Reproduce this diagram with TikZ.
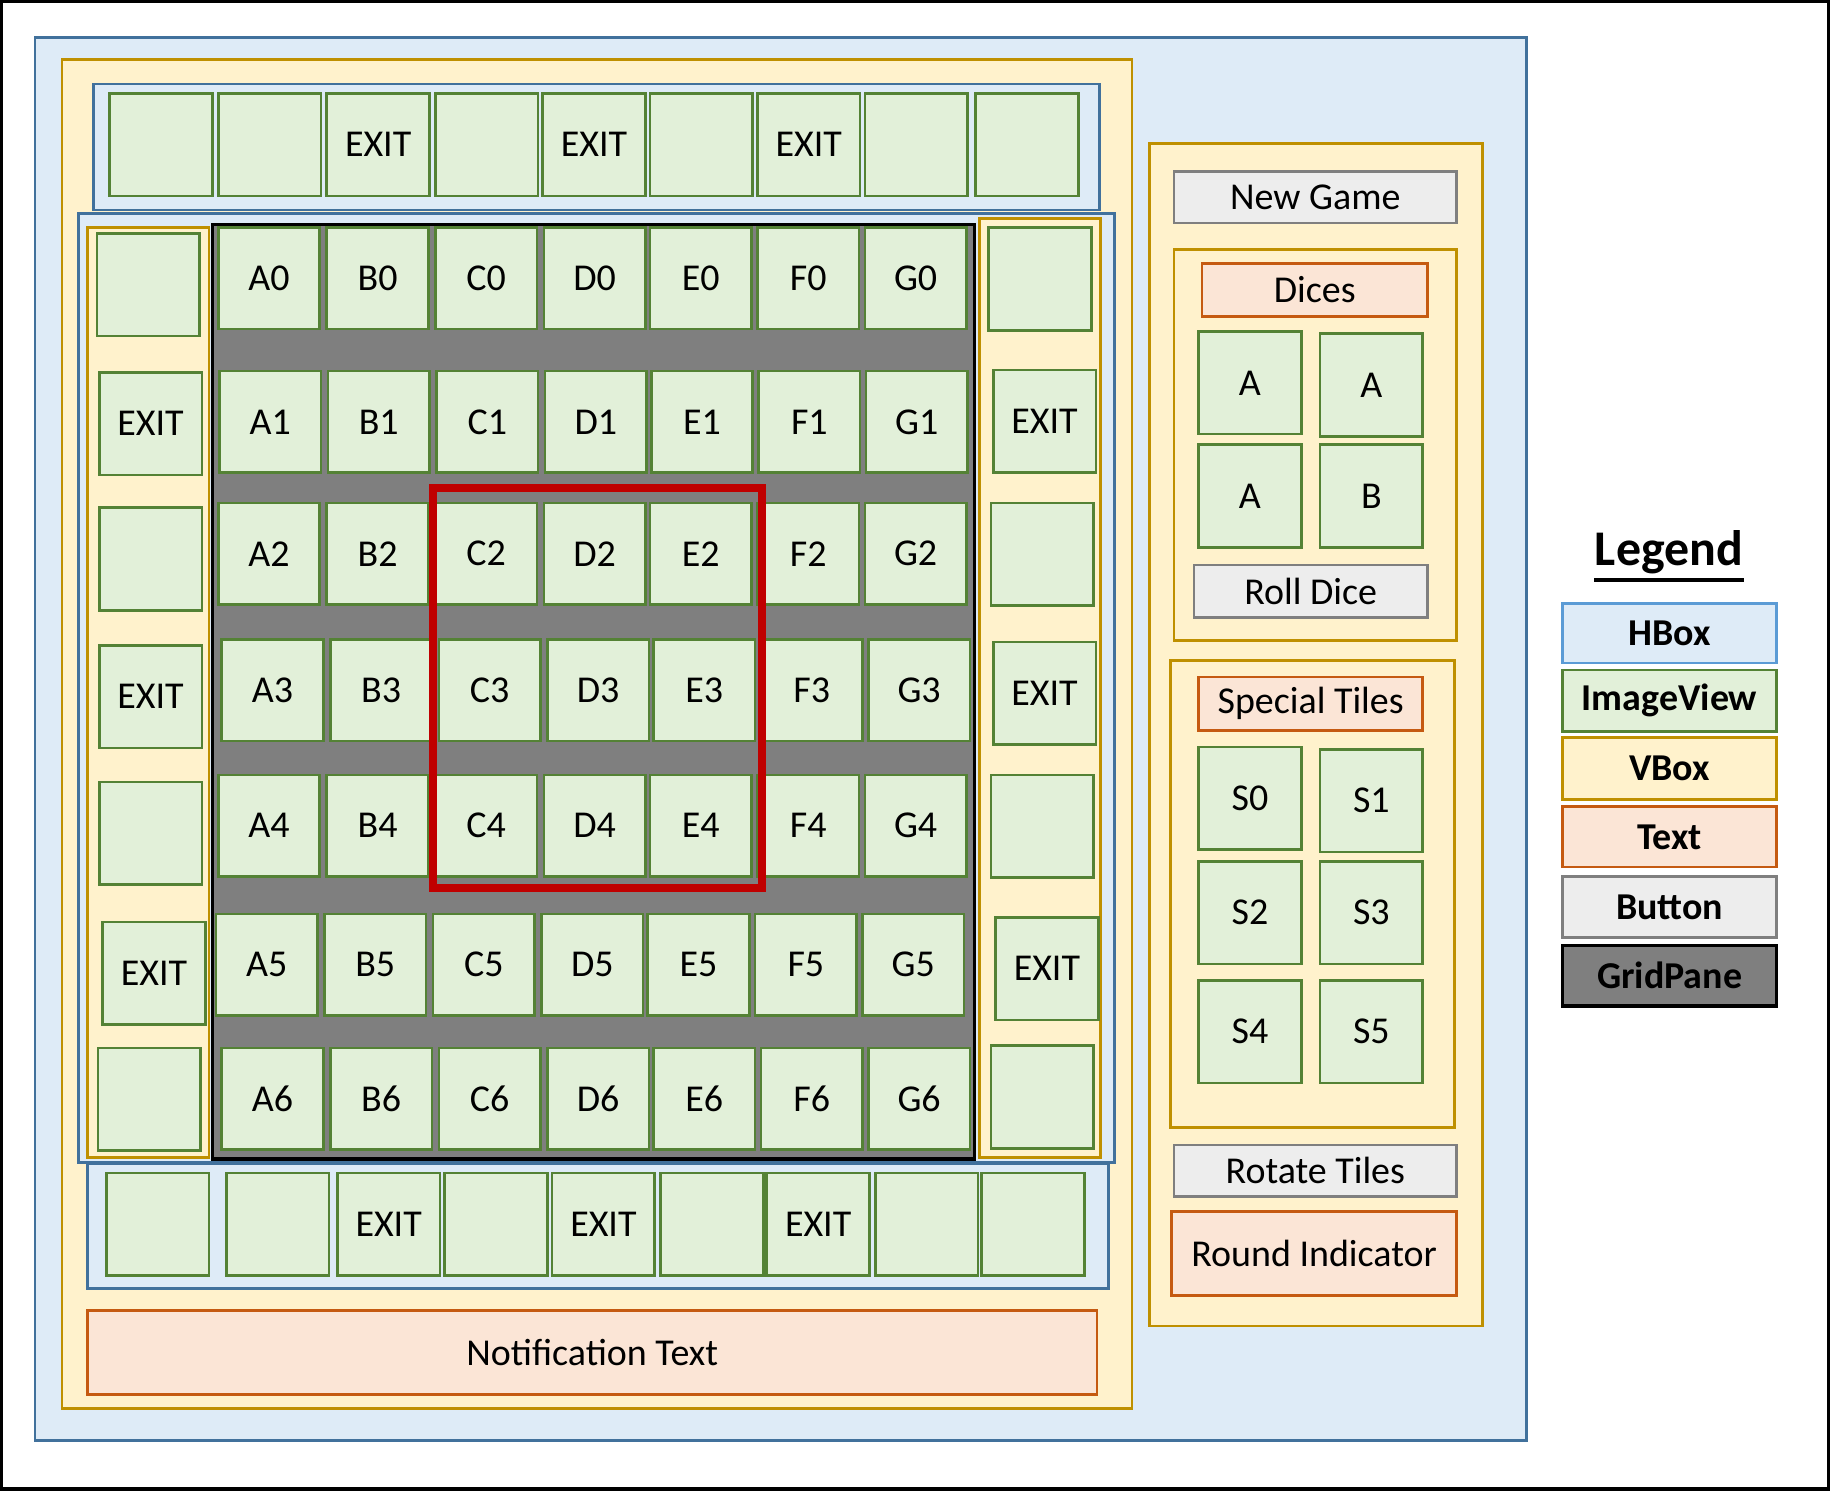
\documentclass[tikz,border=0pt]{standalone}
\usepackage{fontspec}
\setmainfont{Carlito}
\usetikzlibrary{positioning}
\definecolor{HBoxFill}{HTML}{DEEBF7}
\definecolor{HBoxLine}{HTML}{41719C}
\definecolor{LegHBoxLine}{HTML}{5B9BD5}
\definecolor{ImgFill}{HTML}{E2F0D9}
\definecolor{ImgLine}{HTML}{548235}
\definecolor{VBoxFill}{HTML}{FFF2CC}
\definecolor{VBoxLine}{HTML}{BF9000}
\definecolor{TextFill}{HTML}{FBE5D6}
\definecolor{TextLine}{HTML}{C55A11}
\definecolor{BtnFill}{HTML}{EDEDED}
\definecolor{BtnLine}{HTML}{7F7F7F}
\definecolor{PaneFill}{HTML}{7F7F7F}
\definecolor{MarkRed}{HTML}{C00000}
\tikzset{
  hbox/.style={draw=HBoxLine,fill=HBoxFill,line width=0.75pt},
  vbox/.style={draw=VBoxLine,fill=VBoxFill,line width=0.75pt},
  img/.style={draw=ImgLine,fill=ImgFill,line width=0.75pt},
  txt/.style={draw=TextLine,fill=TextFill,line width=0.75pt},
  btn/.style={draw=BtnLine,fill=BtnFill,line width=0.75pt},
  gridpane/.style={draw=black,fill=PaneFill,line width=0.9pt},
  lbl/.style={font=\fontsize{10.8}{13}\selectfont,inner sep=0pt},
  leglbl/.style={font=\bfseries\fontsize{10.8}{13}\selectfont,inner sep=0pt},
}
\begin{document}
\begin{tikzpicture}[x=0.011671cm,y=-0.011671cm]
\useasboundingbox (0,0) rectangle (1568,1277);
\draw[line width=1.2pt] (1,1) rectangle (1567,1276);
% outer hbox
\draw[hbox] (30,32) rectangle (1308,1234);
% left vbox: board + notification
\draw[vbox] (53,51) rectangle (970,1207);
\draw[hbox] (80,72) rectangle (942,180);
\foreach \x/\t [count=\i] in {94/,187/,280/EXIT,373/,465/EXIT,557/,649/EXIT,741/,836/}
  \draw[img] (\x,80) rectangle node[lbl] (top\i) {\t} (\x+88,168);
\draw[hbox] (67,183) rectangle (955,996);
\draw[vbox] (75,195) rectangle (179,992);
\foreach \x/\y/\t [count=\i] in {83/200/,85/319/EXIT,85/435/,85/553/EXIT,85/670/,88/790/EXIT,84/898/}
  \draw[img] (\x,\y) rectangle node[lbl] (left\i) {\t} (\x+88,\y+88);
\draw[vbox] (839,187) rectangle (943,992);
\foreach \x/\y/\t [count=\i] in {847/195/,851/317/EXIT,849/431/,851/550/EXIT,849/664/,853/786/EXIT,849/896/}
  \draw[img] (\x,\y) rectangle node[lbl] (right\i) {\t} (\x+88,\y+88);
% board
\draw[gridpane] (182,192) rectangle (835,993);
\foreach \r/\y/\dx in {0/195/0,1/318/1,2/431/0,3/548/3,4/664/0,5/783/-2,6/898/3}
  \foreach \c/\x in {A/187,B/280,C/373,D/466,E/557,F/649,G/741}
    \draw[img] (\x+\dx,\y) rectangle node[lbl] (\c\r) {\c\r} (\x+\dx+87,\y+87);
\draw[MarkRed,line width=2.2pt] (371,418) rectangle (653,761);
\draw[hbox] (75,997) rectangle (950,1104);
\foreach \x/\t [count=\i] in {91/,194/,289/EXIT,381/,473/EXIT,566/,657/EXIT,750/,841/}
  \draw[img] (\x,1005) rectangle node[lbl] (bot\i) {\t} (\x+88,1093);
\draw[txt] (75,1123) rectangle node[lbl] (notify) {Notification Text} (940,1195);
% right vbox: controls
\draw[vbox] (985,123) rectangle (1270,1136);
\draw[btn] (1006,147) rectangle node[lbl] (newgame) {New Game} (1248,191);
\draw[vbox] (1006,214) rectangle (1248,549);
\draw[txt] (1030,226) rectangle node[lbl] (dices) {Dices} (1223,271);
\foreach \x/\y/\t [count=\i] in {1027/284/A,1131/286/A,1027/381/A,1131/381/B}
  \draw[img] (\x,\y) rectangle node[lbl] (dice\i) {\t} (\x+88,\y+88);
\draw[btn] (1023,484) rectangle node[lbl] (roll) {Roll Dice} (1223,529);
\draw[vbox] (1003,566) rectangle (1246,966);
\draw[txt] (1027,580) rectangle node[lbl] (special) {Special Tiles} (1219,626);
\foreach \x/\y [count=\i from 0] in {1027/640,1131/642,1027/738,1131/738,1027/840,1131/840}
  \draw[img] (\x,\y) rectangle node[lbl] (S\i) {S\i} (\x+88,\y+88);
\draw[btn] (1006,981) rectangle node[lbl] (rotate) {Rotate Tiles} (1248,1025);
\draw[txt] (1004,1038) rectangle node[lbl] (round) {Round Indicator} (1248,1110);
% legend
\node[font=\bfseries\fontsize{14.2}{17}\selectfont,inner sep=0pt] (legend) at (1430,473) {Legend};
\draw[line width=1.3pt] ([yshift=-4.2pt]legend.base west) -- ([yshift=-4.2pt]legend.base east);
\draw[hbox,draw=LegHBoxLine] (1339,517) rectangle node[leglbl] (legH) {HBox} (1522,568);
\draw[img] (1339,574) rectangle node[leglbl] (legI) {ImageView} (1522,627);
\draw[vbox] (1339,632) rectangle node[leglbl] (legV) {VBox} (1522,685);
\draw[txt] (1339,691) rectangle node[leglbl] (legT) {Text} (1522,743);
\draw[btn] (1339,751) rectangle node[leglbl] (legB) {Button} (1522,803);
\draw[gridpane] (1339,810) rectangle node[leglbl] (legG) {GridPane} (1522,862);
\end{tikzpicture}
\end{document}
